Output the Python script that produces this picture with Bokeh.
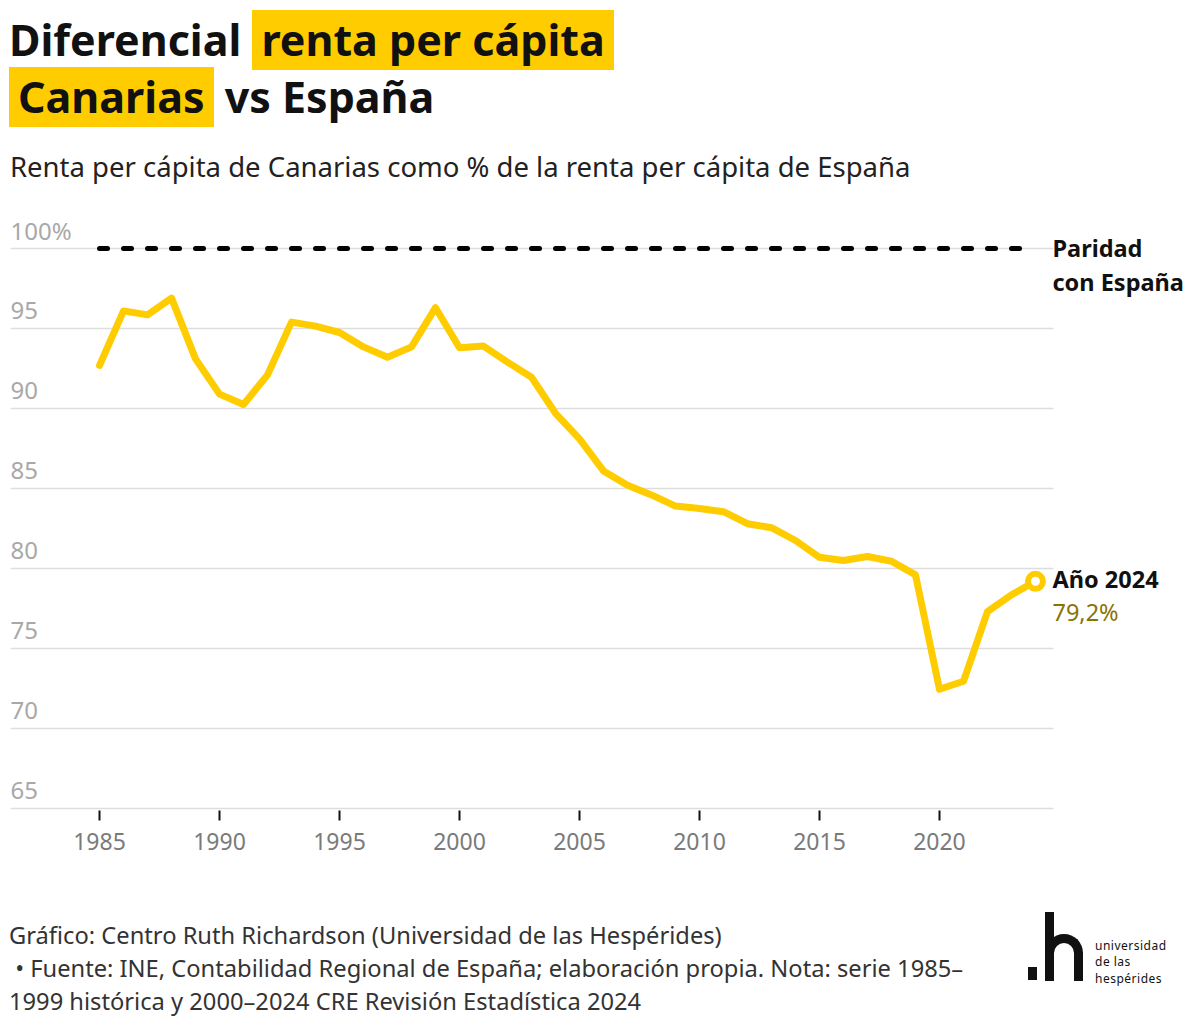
from bokeh.plotting import figure
from bokeh.models import Div, ColumnDataSource, FixedTicker, Range1d
from bokeh.layouts import column
from bokeh.embed import file_html
from bokeh.resources import INLINE
from bokeh.core.properties import value

# ---------------- data ----------------
years = list(range(1985, 2025))
renta_pct = [92.7, 96.1, 95.85, 96.9, 93.1, 90.9, 90.25, 92.1, 95.4, 95.15,
             94.75, 93.85, 93.2, 93.85, 96.3, 93.8, 93.9, 92.9, 91.95, 89.7,
             88.1, 86.1, 85.2, 84.6, 83.9, 83.75, 83.55, 82.8, 82.55, 81.75,
             80.7, 80.5, 80.75, 80.45, 79.6, 72.45, 72.95, 77.3, 78.35, 79.2]
parity_value = 100
y_ticks = [65, 70, 75, 80, 85, 90, 95, 100]
y_labels = ["65", "70", "75", "80", "85", "90", "95", "100%"]
x_ticks = [1985, 1990, 1995, 2000, 2005, 2010, 2015, 2020]
last_label = "Año 2024"
last_value_label = "79,2%"
parity_label_1 = "Paridad"
parity_label_2 = "con España"

# ---------------- style / layout ----------------
FONT = "Noto Sans"
YELLOW = "#FFCC00"
FIG_W = 1190
X_LEFT, X_RIGHT = 1981.29, 2030.46
GRID_RIGHT = 2024.75
Y_BOTTOM, Y_TOP = 64.875, 101.9375

p = figure(width=FIG_W, height=680,
           x_range=Range1d(X_LEFT, X_RIGHT), y_range=Range1d(Y_BOTTOM, Y_TOP),
           output_backend="svg", toolbar_location=None,
           min_border_left=10, min_border_right=0, min_border_top=15,
           min_border_bottom=72, outline_line_color=None,
           background_fill_color="white", border_fill_color="white")
p.yaxis.visible = False
p.xgrid.visible = False
p.ygrid.visible = False
p.xaxis.ticker = FixedTicker(ticks=x_ticks)
p.xaxis.axis_line_color = None
p.xaxis.major_tick_line_color = "#111111"
p.xaxis.major_tick_line_width = 2
p.xaxis.major_tick_in = 0
p.xaxis.major_tick_out = 10
p.xaxis.minor_tick_line_color = None
p.xaxis.major_label_text_font = FONT
p.xaxis.major_label_text_font_size = "23px"
p.xaxis.major_label_text_color = "#7a7a7a"
p.xaxis.major_label_standoff = 12

# gridlines
grid_src = ColumnDataSource(dict(x0=[X_LEFT] * len(y_ticks), x1=[GRID_RIGHT] * len(y_ticks),
                                 y=y_ticks, lab=y_labels))
p.segment(x0="x0", x1="x1", y0="y", y1="y", source=grid_src,
          line_color="#dddddd", line_width=1.5)
p.text(x="x0", y="y", text="lab", source=grid_src, y_offset=-18,
       text_baseline="alphabetic", text_align="left",
       text_font=value(FONT), text_font_size="24px", text_color="#a8a8a8")

# parity line
p.line(x=[years[0], years[-1]], y=[parity_value, parity_value], line_color="#000000",
       line_width=5, line_dash="8 16", line_cap="round")
p.text(x=[years[-1]], y=[parity_value], text=[parity_label_1], x_offset=17, y_offset=-1,
       text_baseline="middle", text_font=value(FONT), text_font_style="bold",
       text_font_size="23.5px", text_color="#111111")
p.text(x=[years[-1]], y=[parity_value], text=[parity_label_2], x_offset=17, y_offset=33,
       text_baseline="middle", text_font=value(FONT), text_font_style="bold",
       text_font_size="23.5px", text_color="#111111")

# main series
p.line(x=years, y=renta_pct, line_color=YELLOW, line_width=7,
       line_join="round", line_cap="round")
p.scatter(x=[years[-1]], y=[renta_pct[-1]], size=15, fill_color="white",
          line_color=YELLOW, line_width=6)
p.text(x=[years[-1]], y=[renta_pct[-1]], text=[last_label], x_offset=17, y_offset=-2,
       text_baseline="middle", text_font=value(FONT), text_font_style="bold",
       text_font_size="23.5px", text_color="#111111")
p.text(x=[years[-1]], y=[renta_pct[-1]], text=[last_value_label], x_offset=17, y_offset=31,
       text_baseline="middle", text_font=value(FONT),
       text_font_size="23.5px", text_color="#8c7300")

# ---------------- header / footer ----------------
box = ("display:inline-block;background:%s;padding:0 9px;height:60px;" % YELLOW)
header_html = f"""
<div style="position:relative;width:1184px;height:192px;font-family:'{FONT}';">
  <div style="position:absolute;left:4px;top:5px;height:60px;line-height:60px;font-size:43px;font-weight:700;white-space:nowrap;color:#111;">Diferencial <span style="{box}">renta per cápita</span></div>
  <div style="position:absolute;left:4px;top:62px;height:60px;line-height:60px;font-size:43px;font-weight:700;white-space:nowrap;color:#111;"><span style="{box}">Canarias</span> vs España</div>
  <div style="position:absolute;left:5px;top:145px;font-size:27.5px;line-height:34px;white-space:nowrap;color:#222;">Renta per cápita de Canarias como % de la renta per cápita de España</div>
</div>
"""
header = Div(text=header_html, width=1184, height=192)

footer_html = f"""
<div style="position:relative;width:1184px;height:141px;font-family:'{FONT}';">
  <div style="position:absolute;left:4px;top:32px;font-size:23.7px;line-height:33px;white-space:nowrap;color:#333;">Gráfico: Centro Ruth Richardson (Universidad de las Hespérides)<br>&nbsp;• Fuente: INE, Contabilidad Regional de España; elaboración propia. Nota: serie 1985–<br>1999 histórica y 2000–2024 CRE Revisión Estadística 2024</div>
  <div style="position:absolute;left:1023px;top:80px;width:9px;height:13px;background:#111;"></div>
  <div style="position:absolute;left:1040px;top:25px;width:9px;height:69px;background:#111;"></div>
  <div style="position:absolute;left:1040px;top:47px;width:38px;height:47px;box-sizing:border-box;border:9px solid #111;border-bottom:none;border-radius:19px 19px 0 0;"></div>
  <div style="position:absolute;left:1090px;top:51px;font-size:12px;line-height:16.4px;letter-spacing:0.5px;color:#111;white-space:nowrap;">universidad<br>de las<br>hespérides</div>
</div>
"""
footer = Div(text=footer_html, width=1184, height=141)

layout = column(header, p, footer)
open("out.html", "w").write(file_html(layout, INLINE))
